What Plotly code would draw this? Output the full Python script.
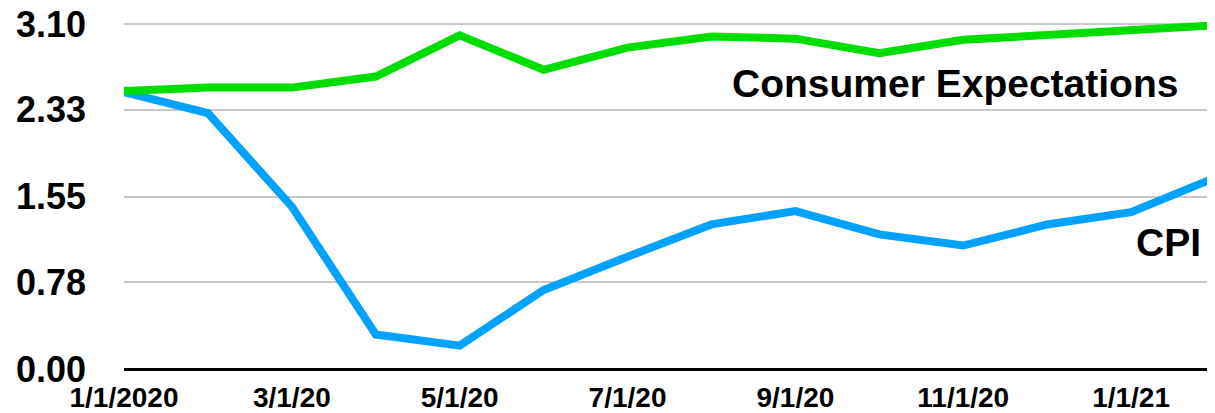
import plotly.graph_objects as go

dates = ["1/1/2020", "2/1/20", "3/1/20", "4/1/20", "5/1/20", "6/1/20", "7/1/20",
         "8/1/20", "9/1/20", "10/1/20", "11/1/20", "12/1/20", "1/1/21", "2/1/21"]
consumer_expectations = [2.50, 2.53, 2.53, 2.63, 3.00, 2.69, 2.89, 2.99, 2.97, 2.84, 2.96, 3.00, 3.05, 3.09]
cpi = [2.49, 2.30, 1.46, 0.31, 0.21, 0.71, 1.01, 1.30, 1.42, 1.21, 1.11, 1.30, 1.41, 1.72]
y_ticks = [0.00, 0.78, 1.55, 2.33, 3.10]
x_tick_labels = ["1/1/2020", "3/1/20", "5/1/20", "7/1/20", "9/1/20", "11/1/20", "1/1/21"]

FONT = "Liberation Sans"

fig = go.Figure()
fig.add_trace(go.Scatter(x=dates, y=cpi, mode="lines",
                         line=dict(color="#00a2ff", width=8), name="CPI"))
fig.add_trace(go.Scatter(x=dates, y=consumer_expectations, mode="lines",
                         line=dict(color="#00dd00", width=8), name="Consumer Expectations"))

fig.add_annotation(x=dates[-1], y=2.57, text="<b>Consumer Expectations</b>", showarrow=False,
                   xanchor="right", yanchor="middle", xshift=-35,
                   font=dict(family=FONT, size=39, color="black"))
fig.add_annotation(x=dates[-1], y=1.14, text="<b>CPI</b>", showarrow=False,
                   xanchor="right", yanchor="middle", xshift=-12,
                   font=dict(family=FONT, size=39, color="black"))

# page body has an 8px margin; compensate so the plot lands where the reference has it
fig.update_layout(
    width=1207, height=405,
    margin=dict(l=116, r=0, t=14, b=44, autoexpand=False),
    paper_bgcolor="white", plot_bgcolor="white",
    showlegend=False,
    font=dict(family=FONT, color="black"),
)
fig.update_xaxes(
    type="category", range=[0, len(dates) - 1],
    tickmode="array", tickvals=x_tick_labels, ticktext=[f"<b>{t}</b>" for t in x_tick_labels],
    tickfont=dict(family=FONT, size=28, color="black"),
    showgrid=False, showline=False, zeroline=False, ticks="",
    ticklabelstandoff=9, automargin=False, ticklabeloverflow="allow",
)
fig.update_yaxes(
    range=[0, 3.12], tickmode="array", tickvals=y_ticks,
    ticktext=[f"<b>{v:.2f}</b>" for v in y_ticks],
    tickfont=dict(family=FONT, size=36, color="black"),
    showgrid=True, gridcolor="#c8c8c8", gridwidth=1.5,
    zeroline=True, zerolinecolor="black", zerolinewidth=3,
    showline=False, ticks="", ticklabelstandoff=37, automargin=False,
    ticklabeloverflow="allow",
)

fig.write_html("out.html")
